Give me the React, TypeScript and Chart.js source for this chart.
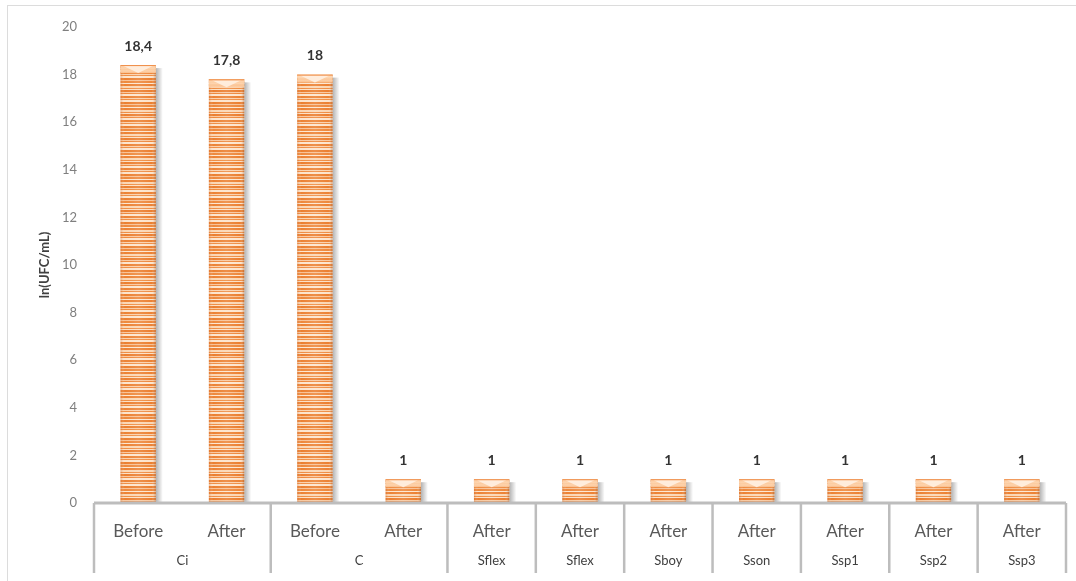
import { useEffect, useRef } from "react";
import { Chart, registerables } from "chart.js";

Chart.register(...registerables);

// Sample condition under each bar (first row of the axis)
const conditions = ["Before", "After", "Before", "After", "After", "After", "After", "After", "After", "After", "After"];
// Group names (second row of the axis) and how many bars each covers
const groups = ["Ci", "C", "Sflex", "Sflex", "Sboy", "Sson", "Ssp1", "Ssp2", "Ssp3"];
const groupSizes = [2, 2, 1, 1, 1, 1, 1, 1, 1];
// ln(UFC/mL) per bar
const lnUfc = [18.4, 17.8, 18, 1, 1, 1, 1, 1, 1, 1, 1];
// Y axis range
const yMin = 0;
const yMax = 20;
const yStep = 2;

const FONT = "Lato, 'Open Sans', sans-serif";

function makeStripePattern(ctx: CanvasRenderingContext2D) {
  const c = document.createElement("canvas");
  const rows = [
    ["#ec8234", 2], ["#fbd2ad", 1], ["#ef8d44", 1], ["#fde4cc", 2],
    ["#eb7f30", 2], ["#f8c296", 1], ["#ee883c", 2], ["#fde6cf", 1],
    ["#ec8133", 2], ["#fbd6b3", 2], ["#ef8c42", 1], ["#fce0c4", 1],
    ["#eb7e2f", 2], ["#f9c9a0", 1], ["#ee873b", 1], ["#fde5cd", 2],
  ] as [string, number][];
  const h = rows.reduce((s, r) => s + r[1], 0);
  c.width = 4;
  c.height = h;
  const g = c.getContext("2d")!;
  let y = 0;
  for (const [col, n] of rows) {
    g.fillStyle = col;
    g.fillRect(0, y, 4, n);
    y += n;
  }
  return ctx.createPattern(c, "repeat")!;
}

const decoPlugin = {
  id: "deco",
  beforeDraw(chart: any) {
    const { ctx, width, height } = chart;
    ctx.save();
    ctx.fillStyle = "#ffffff";
    ctx.fillRect(0, 0, width, height);
    ctx.strokeStyle = "#dcdcdc";
    ctx.lineWidth = 1;
    ctx.strokeRect(7.5, 5.5, width + 10, height + 10);
    ctx.restore();
  },
  beforeDatasetsDraw(chart: any) {
    const { ctx } = chart;
    const meta = chart.getDatasetMeta(0);
    ctx.save();
    for (const bar of meta.data) {
      const { x, y, base, width } = bar.getProps(["x", "y", "base", "width"], true);
      const right = x + width / 2;
      const g = ctx.createLinearGradient(right, 0, right + 7, 0);
      g.addColorStop(0, "rgba(0,0,0,0.30)");
      g.addColorStop(1, "rgba(0,0,0,0)");
      ctx.fillStyle = g;
      ctx.fillRect(right, y + 3, 7, base - y - 3);
    }
    ctx.restore();
  },
  afterDatasetsDraw(chart: any) {
    const { ctx } = chart;
    const meta = chart.getDatasetMeta(0);
    const values = chart.data.datasets[0].data as number[];
    ctx.save();
    meta.data.forEach((bar: any, i: number) => {
      const { x, y, base, width } = bar.getProps(["x", "y", "base", "width"], true);
      const left = x - width / 2;
      const right = x + width / 2;
      // rounded-cylinder shading across the bar
      const g = ctx.createLinearGradient(left, 0, right, 0);
      g.addColorStop(0, "rgba(205,95,25,0.35)");
      g.addColorStop(0.12, "rgba(255,255,255,0)");
      g.addColorStop(0.5, "rgba(255,255,255,0.12)");
      g.addColorStop(0.88, "rgba(255,255,255,0)");
      g.addColorStop(1, "rgba(140,70,25,0.40)");
      ctx.fillStyle = g;
      ctx.fillRect(left, y, width, base - y);
      // bevelled top cap
      const cap = Math.min(8, (base - y) / 2);
      const cg = ctx.createLinearGradient(0, y, 0, y + cap);
      cg.addColorStop(0, "rgba(255,220,185,0.95)");
      cg.addColorStop(1, "rgba(252,200,155,0.9)");
      ctx.fillStyle = cg;
      ctx.fillRect(left, y, width, cap);
      ctx.fillStyle = "rgba(255,240,225,0.9)";
      ctx.beginPath();
      ctx.moveTo(left + 3, y + 1);
      ctx.lineTo(right - 3, y + 1);
      ctx.lineTo(x, y + cap);
      ctx.closePath();
      ctx.fill();
      ctx.fillStyle = "rgba(236,130,55,0.9)";
      ctx.fillRect(left, y, width, 1);
      // value label
      ctx.fillStyle = "#333333";
      ctx.font = `bold 14px ${FONT}`;
      ctx.textAlign = "center";
      ctx.textBaseline = "middle";
      ctx.fillText(String(values[i]).replace(".", ","), x, y - 19);
    });
    ctx.restore();
  },
  afterDraw(chart: any) {
    const { ctx, chartArea } = chart;
    const xs = chart.scales.x;
    const n = chart.data.labels.length;
    const cat = (xs.right - xs.left) / n;
    const axisY = chartArea.bottom;
    ctx.save();
    ctx.strokeStyle = "#bdbdbd";
    ctx.lineWidth = 3;
    ctx.beginPath();
    ctx.moveTo(xs.left, axisY);
    ctx.lineTo(xs.right, axisY);
    ctx.stroke();
    ctx.lineWidth = 2.5;
    let k = 0;
    const bounds = [0];
    groupSizes.forEach((s) => {
      k += s;
      bounds.push(k);
    });
    for (const b of bounds) {
      const px = xs.left + b * cat;
      ctx.beginPath();
      ctx.moveTo(px, axisY);
      ctx.lineTo(px, axisY + 70);
      ctx.stroke();
    }
    ctx.fillStyle = "#404040";
    ctx.font = `13px ${FONT}`;
    ctx.textAlign = "center";
    ctx.textBaseline = "middle";
    groups.forEach((name, i) => {
      const cx = xs.left + ((bounds[i] + bounds[i + 1]) / 2) * cat;
      ctx.fillText(name, cx, axisY + 58);
    });
    ctx.restore();
  },
};

export default function App() {
  const ref = useRef<HTMLCanvasElement | null>(null);

  useEffect(() => {
    const canvas = ref.current!;
    const ctx = canvas.getContext("2d")!;
    const pattern = makeStripePattern(ctx);
    const chart = new Chart(canvas, {
      type: "bar",
      data: {
        labels: conditions,
        datasets: [
          {
            data: lnUfc,
            backgroundColor: pattern,
            borderWidth: 0,
            categoryPercentage: 1,
            barPercentage: 0.4,
          },
        ],
      },
      options: {
        responsive: false,
        animation: false,
        layout: { padding: { top: 27, right: 10, bottom: 3, left: 37 } },
        plugins: {
          legend: { display: false },
          tooltip: { enabled: false },
        },
        scales: {
          x: {
            grid: { display: false, drawTicks: false },
            border: { display: false },
            ticks: {
              color: "#595959",
              font: { family: FONT, size: 17 },
              padding: 18,
              maxRotation: 0,
              autoSkip: false,
            },
            afterFit: (s: any) => {
              s.height = 75;
            },
          },
          y: {
            min: yMin,
            max: yMax,
            grid: { display: false, drawTicks: false },
            border: { display: false },
            ticks: {
              stepSize: yStep,
              color: "#7f7f7f",
              font: { family: FONT, size: 13 },
              padding: 17,
            },
            title: {
              display: true,
              text: "ln(UFC/mL)",
              color: "#404040",
              font: { family: FONT, size: 13, weight: "bold" },
              padding: 0,
            },
            afterFit: (s: any) => {
              s.width = 57;
            },
          },
        },
      },
      plugins: [decoPlugin],
    });
    return () => chart.destroy();
  }, []);

  return (
    <div style={{ position: "fixed", left: 0, top: 0, width: 1076, height: 581 }}>
      <canvas ref={ref} width={1076} height={581} style={{ display: "block" }} />
    </div>
  );
}
